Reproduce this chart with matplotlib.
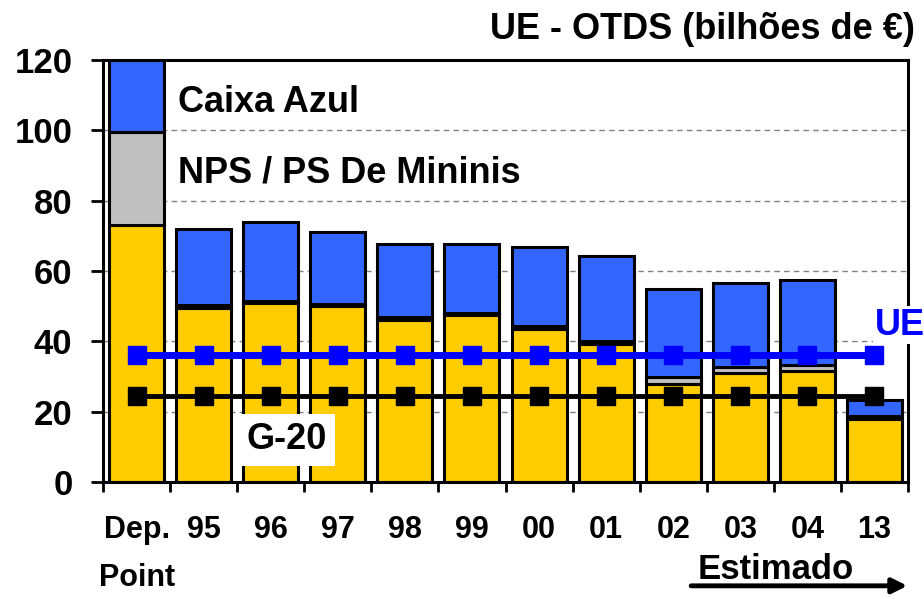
import matplotlib
matplotlib.use('Agg')
import matplotlib.pyplot as plt
import numpy as np

plt.rcParams['font.family'] = ['Liberation Sans', 'DejaVu Sans']
plt.rcParams['font.weight'] = 'bold'

categories = ['Dep.\nPoint', '95', '96', '97', '98', '99', '00', '01', '02', '03', '04', '13']
amber = [73, 49.5, 51, 50, 46, 47.5, 43.5, 39.2, 28, 31, 31.6, 18]
nps_deminimis = [26.5, 0.8, 0.5, 0.6, 0.8, 0.5, 0.8, 0.8, 2, 1.8, 1.6, 0.8]
blue_box = [20.5, 21.7, 22.5, 20.4, 21, 19.7, 22.5, 24.3, 24.8, 23.8, 24.2, 4.5]
ue_limit = [36] * 12
g20_limit = [24.5] * 12

x = np.arange(len(categories))
amber = np.array(amber)
nps_deminimis = np.array(nps_deminimis)
blue_box = np.array(blue_box)

fig = plt.figure(figsize=(9.24, 5.99), dpi=100)
ax = fig.add_axes([0.1115, 0.1953, 0.8712, 0.7045])

ax.set_axisbelow(True)
ax.yaxis.grid(True, color='#808080', linestyle=(0, (4, 3)), linewidth=1)

w = 0.82
ax.bar(x, amber, w, color='#FFCC00', edgecolor='black', linewidth=2.2, zorder=2)
ax.bar(x, nps_deminimis, w, bottom=amber, color='#C0C0C0', edgecolor='black', linewidth=2.2, zorder=2)
ax.bar(x, blue_box, w, bottom=amber + nps_deminimis, color='#3366FF', edgecolor='black', linewidth=2.2, zorder=2)

ax.plot(x, ue_limit, color='#0000FF', linewidth=5, marker='s', markersize=13, zorder=4)
ax.plot(x, g20_limit, color='black', linewidth=3.5, marker='s', markersize=13, zorder=4)

ax.set_xlim(-0.5, 11.5)
ax.set_ylim(0, 120)
ax.set_yticks(range(0, 121, 20))
ax.tick_params(axis='y', labelsize=25, width=2, length=9, pad=13)
ax.set_xticks(x)
ax.set_xticklabels(categories, fontsize=22, linespacing=1.75)
ax.set_xticks(np.arange(-0.5, 12, 1), minor=True)
ax.tick_params(axis='x', which='major', length=0, pad=24)
ax.tick_params(axis='x', which='minor', length=7, width=2)
for s in ax.spines.values():
    s.set_linewidth(2.2)

ax.text(0.62, 107.8, 'Caixa Azul', fontsize=26, ha='left', va='center')
ax.text(0.62, 88, 'NPS / PS De Mininis', fontsize=26, ha='left', va='center')
ax.text(2.24, 12, 'G-20', fontsize=26, ha='center', va='center', zorder=5,
        bbox=dict(facecolor='white', edgecolor='none', pad=6))
ax.text(11.0, 44.6, 'UE', fontsize=26, color='#0000FF', ha='left', va='center', zorder=6,
        clip_on=False, bbox=dict(facecolor='white', edgecolor='none', pad=1))

fig.text(0.99, 0.95, 'UE - OTDS (bilhões de €)', fontsize=26, ha='right', va='center')
fig.text(0.84, 0.05, 'Estimado', fontsize=25, ha='center', va='center')
fig.add_artist(matplotlib.patches.FancyArrowPatch((0.745, 0.022), (0.985, 0.022),
               transform=fig.transFigure, arrowstyle='-|>', mutation_scale=22,
               color='black', linewidth=3.5))

fig.savefig('out.png', dpi=100)
